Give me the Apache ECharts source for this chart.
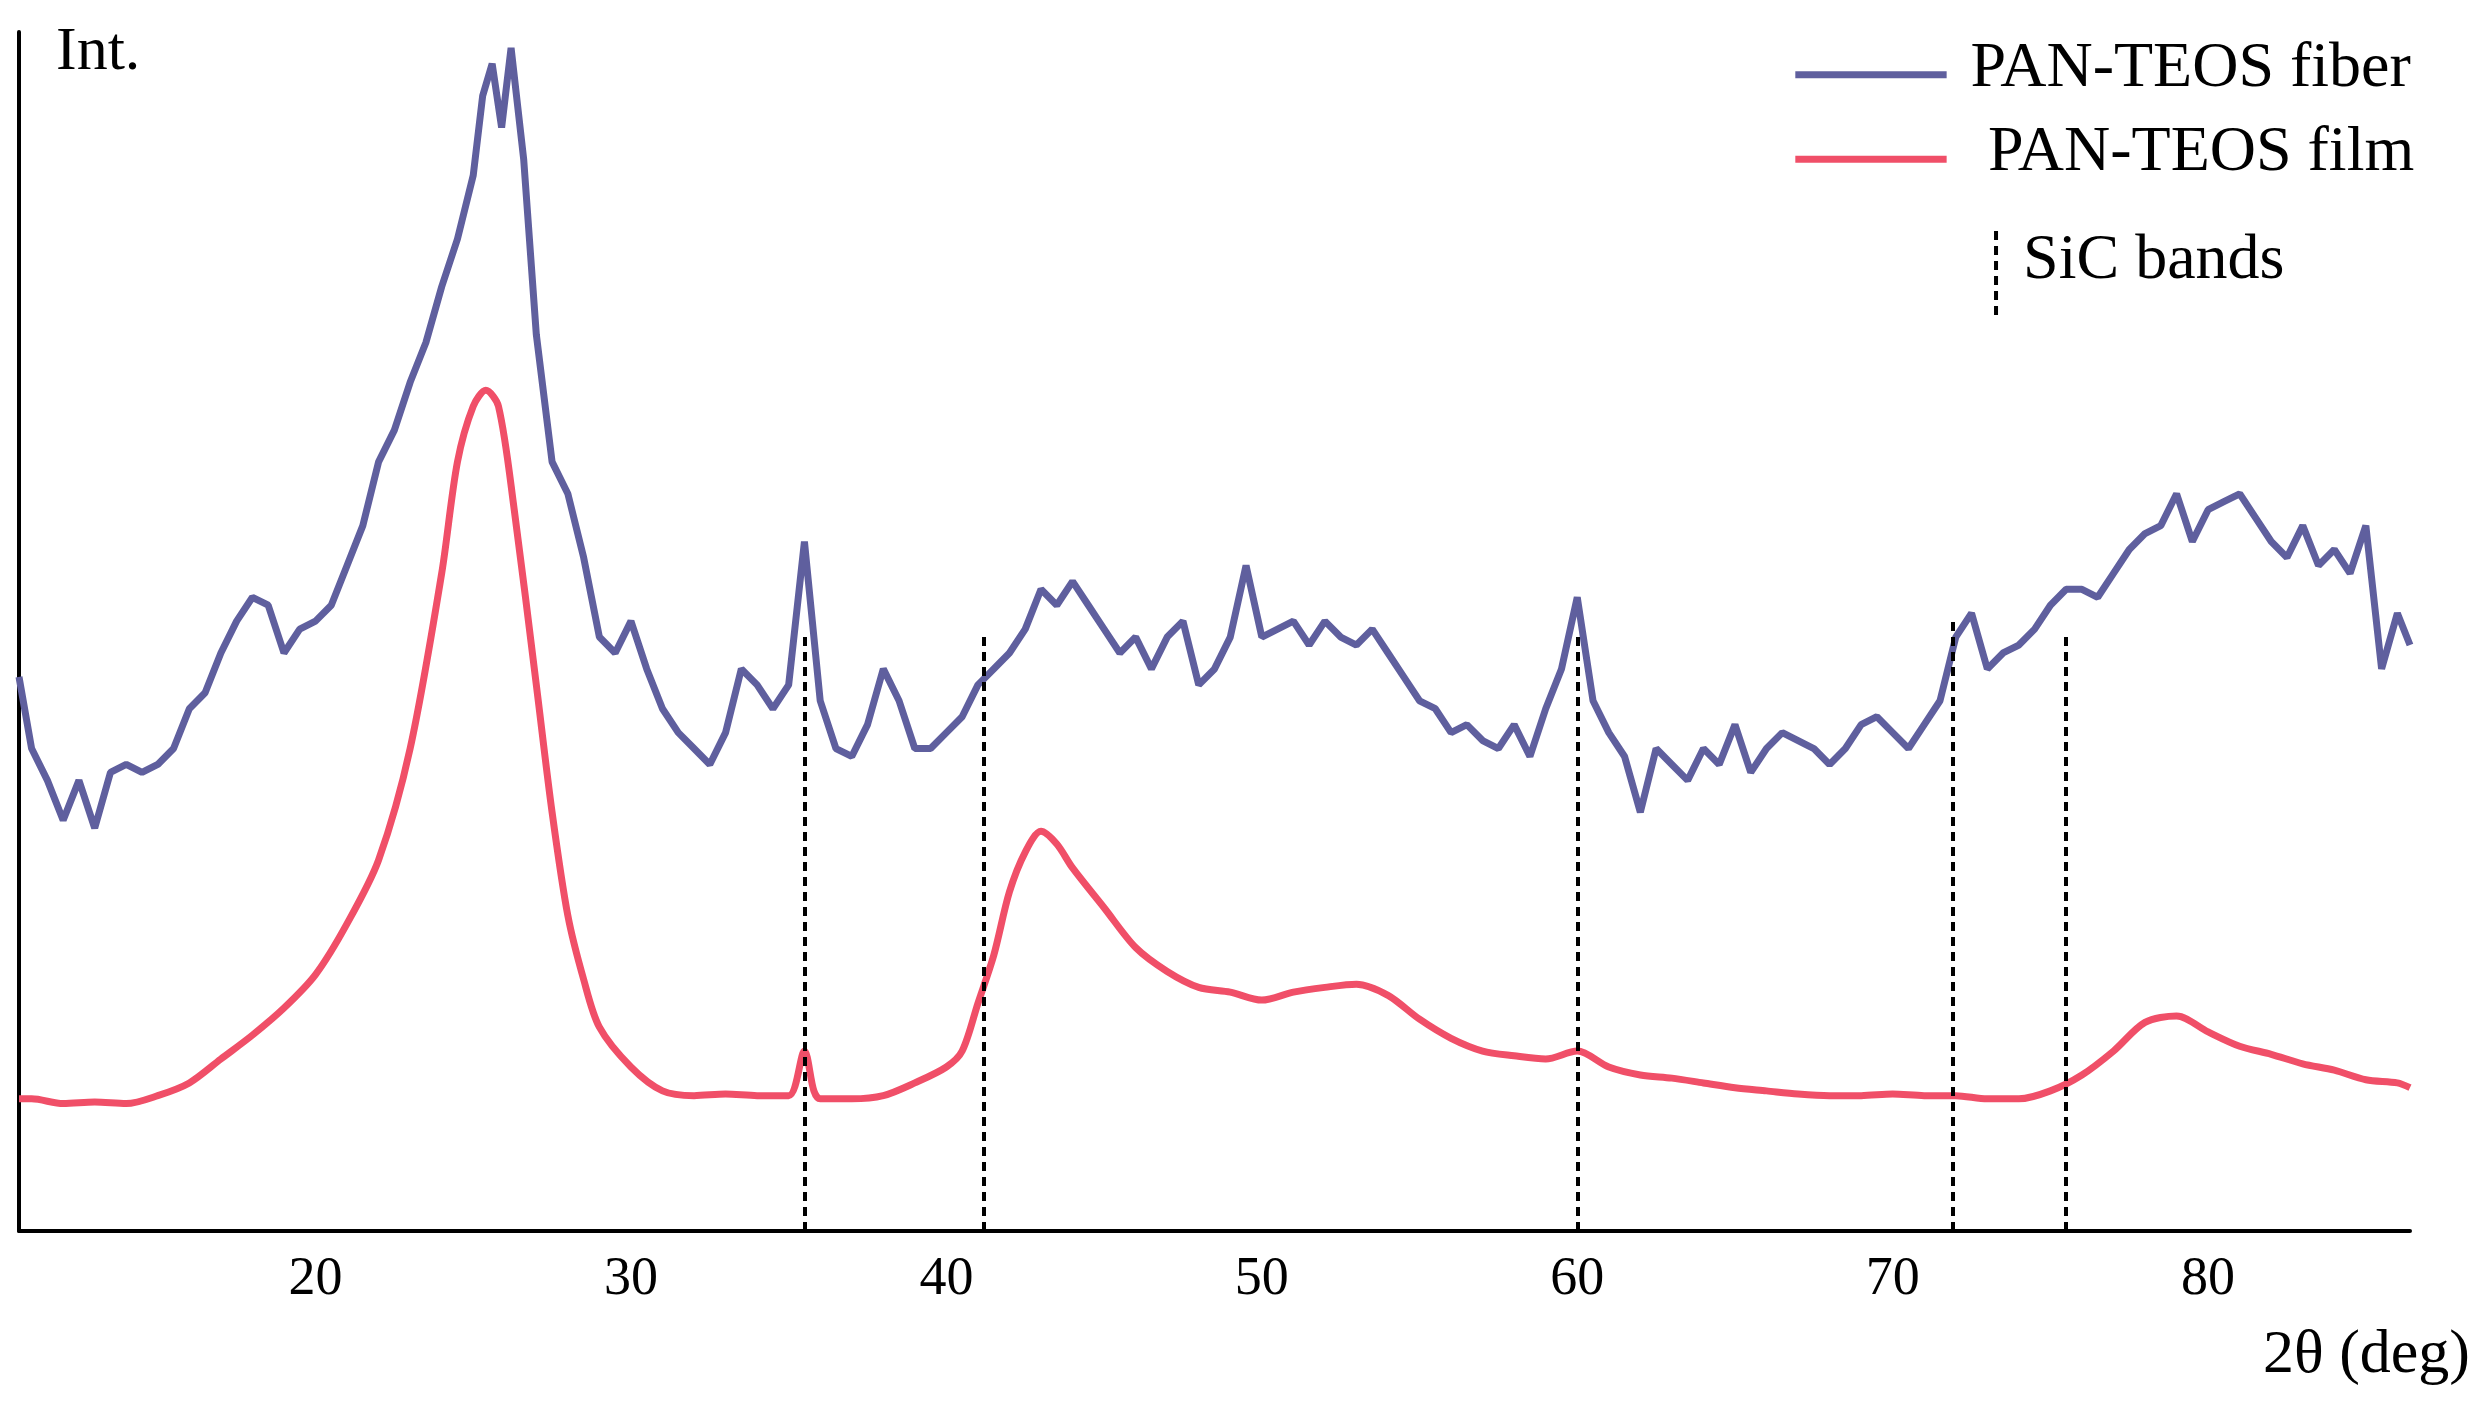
<!DOCTYPE html><html><head><meta charset="utf-8"><script src="https://cdn.jsdelivr.net/npm/echarts@6/dist/echarts.min.js"></script><style>html,body{margin:0;background:#fff}#c{width:2490px;height:1413px}</style></head><body><div id="c"></div><script>
const fiberX=[10.6,11,11.5,12,12.5,13,13.5,14,14.5,15,15.5,16,16.5,17,17.5,18,18.5,19,19.5,20,20.5,21,21.5,22,22.5,23,23.5,24,24.5,25,25.3,25.6,25.9,26.2,26.6,27,27.5,28,28.5,29,29.5,30,30.5,31,31.5,32,32.5,33,33.5,34,34.5,35,35.5,36,36.5,37,37.5,38,38.5,39,39.5,40,40.5,41,41.5,42,42.5,43,43.5,44,44.5,45,45.5,46,46.5,47,47.5,48,48.5,49,49.5,50,50.5,51,51.5,52,52.5,53,53.5,54,54.5,55,55.5,56,56.5,57,57.5,58,58.5,59,59.5,60,60.5,61,61.5,62,62.5,63,63.5,64,64.5,65,65.5,66,66.5,67,67.5,68,68.5,69,69.5,70,70.5,71,71.5,72,72.5,73,73.5,74,74.5,75,75.5,76,76.5,77,77.5,78,78.5,79,79.5,80,80.5,81,81.5,82,82.5,83,83.5,84,84.5,85,85.5,86,86.4];
const fiberPx=[425,470,490,515,490,520,485,480,485,480,470,445,435,410,390,375,380,410,395,390,380,355,330,290,270,240,215,180,150,110,60,40,80,30,100,210,290,310,350,400,410,390,420,445,460,470,480,460,420,430,445,430,340,440,470,475,455,420,440,470,470,460,450,430,420,410,395,370,380,365,380,395,410,400,420,400,390,430,420,400,355,400,395,390,405,390,400,405,395,410,425,440,445,460,455,465,470,455,475,445,420,375,440,460,475,510,470,480,490,470,480,455,485,470,460,465,470,480,470,455,450,460,470,455,440,400,385,420,410,405,395,380,370,370,375,360,345,335,330,310,340,320,315,310,325,340,350,330,355,345,360,330,420,385,405];
const filmX=[10.6,11,12,13,14,15,16,17,18,19,20,21,22,23,24,24.5,25,25.4,25.8,26.3,27,27.5,28,28.5,29,30,31,32,33,34,35,35.5,35.8,36,37,38,39,40,40.5,41,41.5,42,42.5,43,43.5,44,45,46,47,48,49,50,51,52,53,54,55,56,57,58,59,60,61,62,63,64,65,66,67,68,69,70,71,72,73,74,75,76,77,78,79,80,81,82,83,84,85,86,86.4];
const filmPx=[690,690,693,692,693,688,680,665,650,633,612,580,540,470,360,290,255,245,255,320,430,510,575,615,645,670,685,688,687,688,688,660,685,690,690,688,680,670,660,630,600,560,535,522,530,545,570,595,610,620,623,628,623,620,618,625,640,652,660,663,665,660,670,675,677,680,683,685,687,688,688,687,688,688,690,690,685,675,660,642,638,648,657,662,668,672,678,680,683];
const sicX=[35.5,41.2,60,71.9,75.5];
const sicTop=[376,376,376,383,376];
const tickVals=[20,30,40,50,60,70,80];
const B=773;
const fiber=fiberX.map((x,i)=>[x,B-fiberPx[i]]);
const film=filmX.map((x,i)=>[x,B-filmPx[i]]);
const s=1.593;
const ch=echarts.init(document.getElementById('c'));
const F='Liberation Serif';
ch.setOption({animation:false,
grid:{left:19,right:80,top:32,bottom:182},
xAxis:{type:'value',min:10.6,max:86.4,axisLine:{lineStyle:{color:'#000',width:4}},axisTick:{show:false},splitLine:{show:false},
 axisLabel:{fontFamily:F,fontSize:54,color:'#000',margin:22,customValues:tickVals}},
yAxis:{type:'value',min:0,max:753,axisLine:{show:true,lineStyle:{color:'#000',width:4}},axisTick:{show:false},axisLabel:{show:false},splitLine:{show:false}},
series:[
{type:'line',data:fiber,showSymbol:false,lineStyle:{color:'#5f5f9e',width:7},z:3},
{type:'line',data:film,showSymbol:false,smooth:0.3,lineStyle:{color:'#f04f68',width:7},z:3,
 markLine:{symbol:'none',silent:true,label:{show:false},lineStyle:{color:'#000',type:[9,6],width:4},
  data:sicX.map((x,i)=>[{coord:[x,0]},{coord:[x,sicTop[i]]}])}}
],
graphic:[
{type:'text',left:56,top:22,style:{text:'Int.',font:'62px '+F,fill:'#000'}},
{type:'text',right:20,top:1325,style:{text:'2θ (deg)',font:'62px '+F,fill:'#000'}},
{type:'line',shape:{x1:1127*s,y1:47*s,x2:1222*s,y2:47*s},style:{stroke:'#5f5f9e',lineWidth:7}},
{type:'line',shape:{x1:1127*s,y1:100*s,x2:1222*s,y2:100*s},style:{stroke:'#f04f68',lineWidth:7}},
{type:'line',shape:{x1:1253*s,y1:145*s,x2:1253*s,y2:198*s},style:{stroke:'#000',lineWidth:4,lineDash:[9,6]}},
{type:'text',left:1237*s,top:47*s-38,style:{text:'PAN-TEOS fiber',font:'64px '+F,fill:'#000'}},
{type:'text',left:1248*s,top:100*s-38,style:{text:'PAN-TEOS film',font:'64px '+F,fill:'#000'}},
{type:'text',left:1270*s,top:168*s-38,style:{text:'SiC bands',font:'64px '+F,fill:'#000'}}
]});
</script></body></html>
